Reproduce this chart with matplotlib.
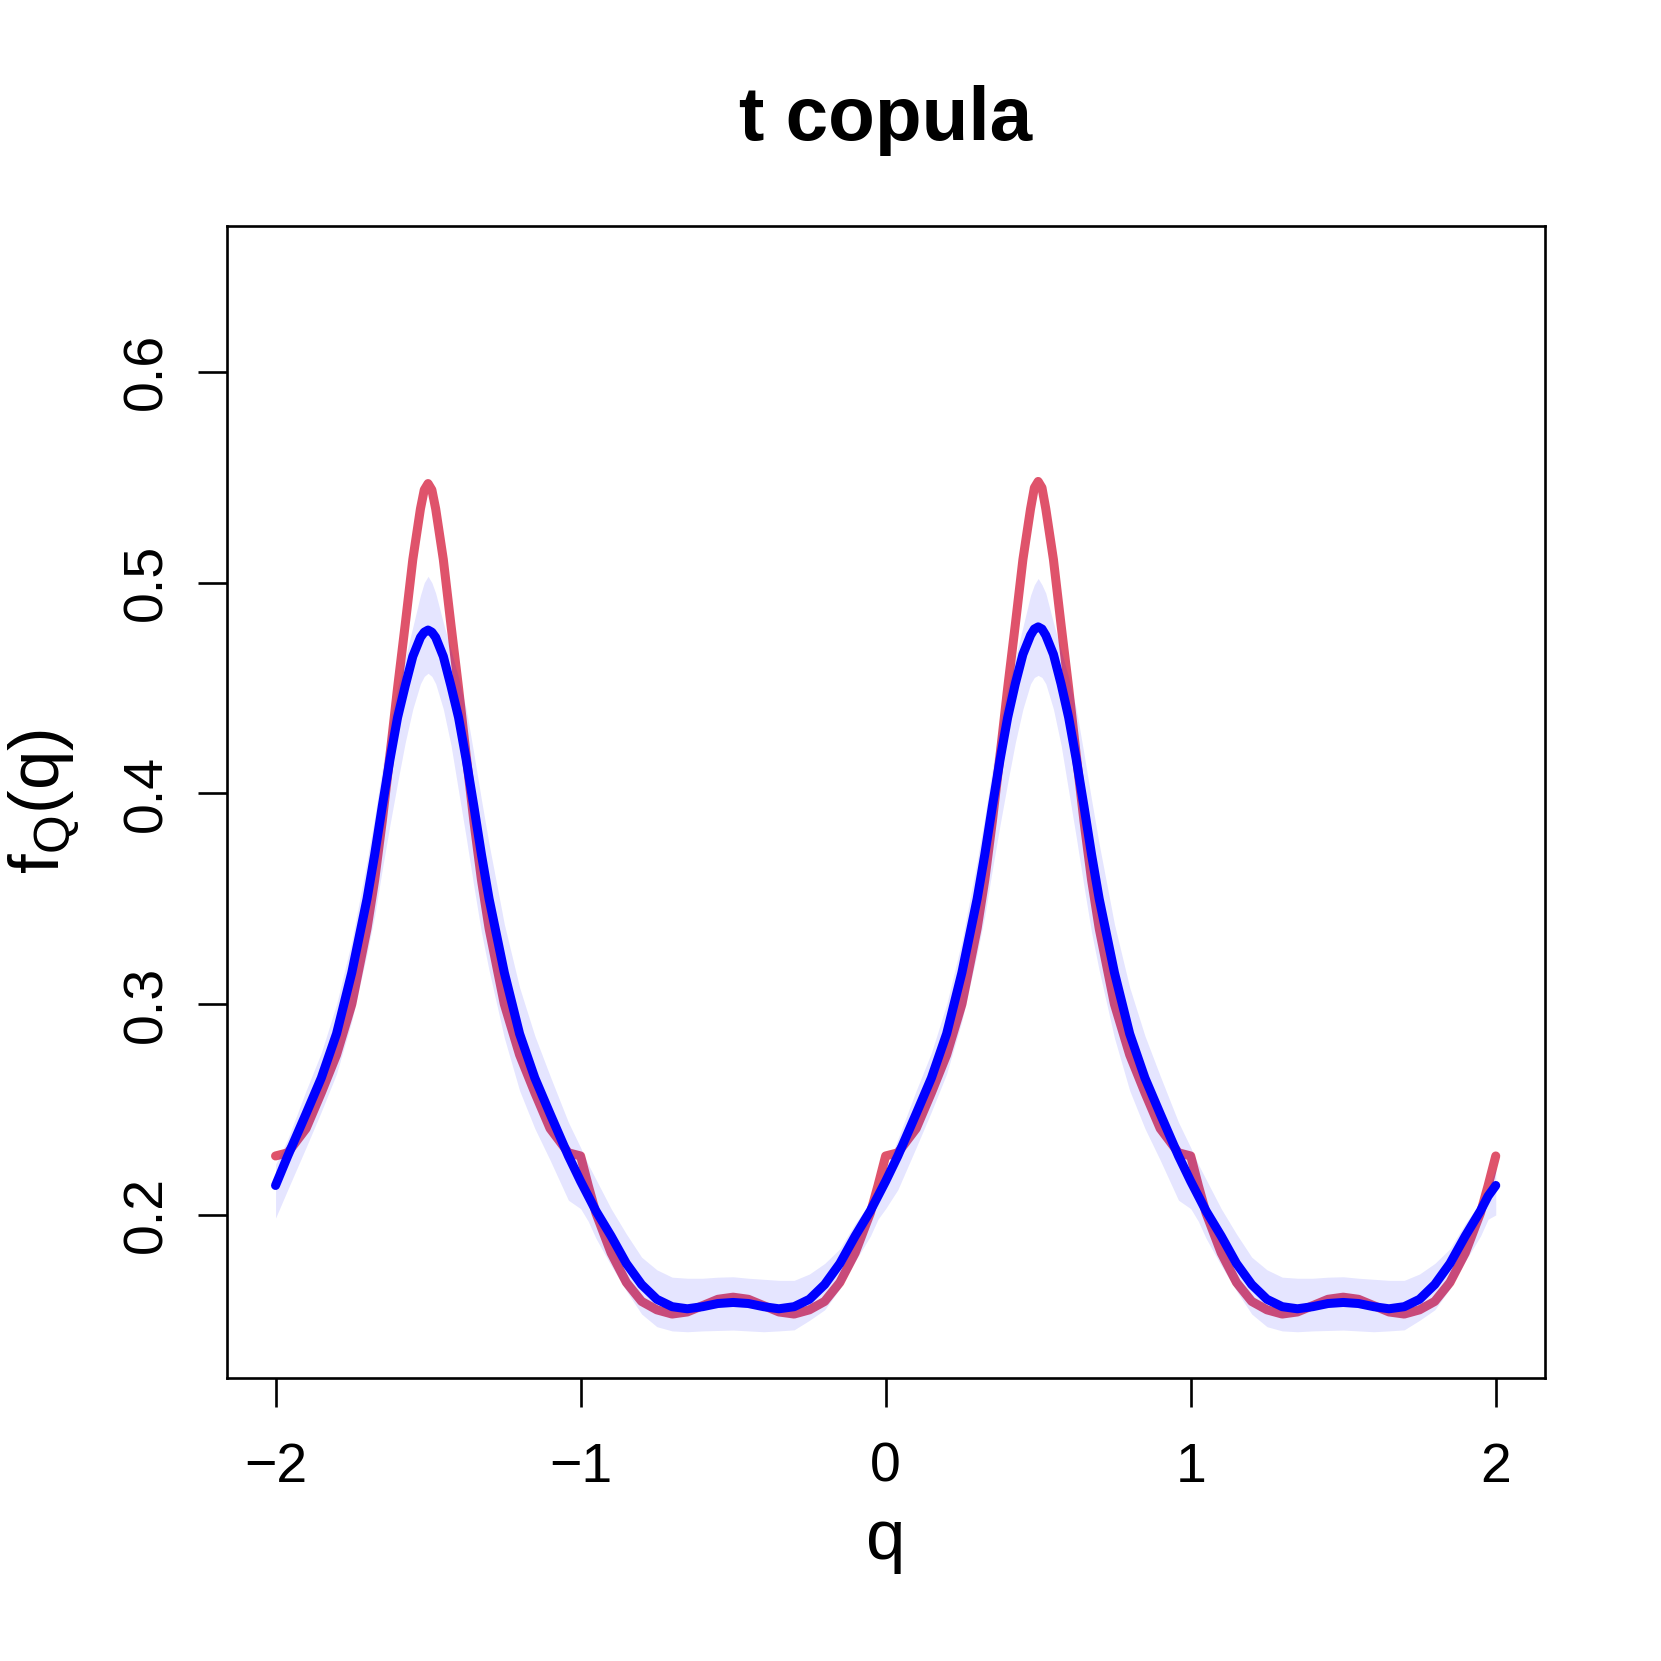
import matplotlib
matplotlib.use("Agg")
import matplotlib.pyplot as plt

# ---------------- data ----------------
q = [-2.0, -1.96, -1.9, -1.85, -1.8, -1.75, -1.7, -1.675, -1.65, -1.625, -1.6, -1.575, -1.55, -1.525, -1.5125, -1.5,
     -1.4875, -1.475, -1.45, -1.425, -1.4, -1.375, -1.35, -1.325, -1.3, -1.25, -1.2, -1.15, -1.1, -1.04, -1.0,
     -0.975, -0.95, -0.9, -0.85, -0.8, -0.75, -0.7, -0.65, -0.6, -0.55, -0.5, -0.45, -0.4, -0.35, -0.3,
     -0.25, -0.2, -0.15, -0.1, -0.05, -0.025,
     0.0, 0.04, 0.1, 0.15, 0.2, 0.25, 0.3, 0.325, 0.35, 0.375, 0.4, 0.425, 0.45, 0.475, 0.4875, 0.5,
     0.5125, 0.525, 0.55, 0.575, 0.6, 0.625, 0.65, 0.675, 0.7, 0.75, 0.8, 0.85, 0.9, 0.96, 1.0,
     1.025, 1.05, 1.1, 1.15, 1.2, 1.25, 1.3, 1.35, 1.4, 1.45, 1.5, 1.55, 1.6, 1.65, 1.7,
     1.75, 1.8, 1.85, 1.9, 1.95, 1.975, 2.0]

# true density (red)
dens_true = [0.228, 0.2295, 0.241, 0.258, 0.276, 0.300, 0.336, 0.359, 0.387, 0.418, 0.450, 0.480, 0.511, 0.535, 0.544, 0.547,
             0.544, 0.535, 0.511, 0.480, 0.450, 0.418, 0.387, 0.359, 0.336, 0.300, 0.276, 0.258, 0.241, 0.2295, 0.228,
             0.214, 0.201, 0.182, 0.168, 0.159, 0.155, 0.153, 0.154, 0.157, 0.160, 0.161, 0.160, 0.157, 0.154, 0.153,
             0.155, 0.159, 0.168, 0.182, 0.201, 0.214,
             0.228, 0.2295, 0.241, 0.258, 0.276, 0.300, 0.336, 0.359, 0.387, 0.418, 0.450, 0.480, 0.511, 0.535, 0.545, 0.548,
             0.545, 0.535, 0.511, 0.480, 0.450, 0.418, 0.387, 0.359, 0.336, 0.300, 0.276, 0.258, 0.241, 0.2295, 0.228,
             0.214, 0.201, 0.182, 0.168, 0.159, 0.155, 0.153, 0.154, 0.157, 0.160, 0.161, 0.160, 0.157, 0.154, 0.153,
             0.155, 0.159, 0.168, 0.182, 0.201, 0.214, 0.228]

# estimated density (blue)
dens_est = [0.214, 0.228, 0.248, 0.265, 0.286, 0.315, 0.350, 0.371, 0.394, 0.416, 0.436, 0.451, 0.465, 0.474, 0.4765, 0.4775,
            0.4765, 0.474, 0.465, 0.451, 0.436, 0.416, 0.394, 0.371, 0.350, 0.315, 0.286, 0.265, 0.248, 0.228, 0.216,
            0.209, 0.202, 0.190, 0.177, 0.167, 0.160, 0.1565, 0.1555, 0.1565, 0.158, 0.1585, 0.158, 0.1565, 0.1555, 0.1565,
            0.160, 0.167, 0.177, 0.190, 0.202, 0.209,
            0.216, 0.228, 0.248, 0.265, 0.286, 0.315, 0.350, 0.371, 0.394, 0.416, 0.436, 0.452, 0.466, 0.475, 0.478, 0.479,
            0.478, 0.475, 0.466, 0.452, 0.436, 0.416, 0.394, 0.371, 0.350, 0.315, 0.286, 0.265, 0.248, 0.228, 0.216,
            0.209, 0.202, 0.190, 0.177, 0.167, 0.160, 0.1565, 0.1555, 0.1565, 0.158, 0.1585, 0.158, 0.1565, 0.1555, 0.1565,
            0.160, 0.167, 0.177, 0.190, 0.202, 0.209, 0.214]

# pointwise band around the estimate
band_upper = [0.224, 0.236, 0.259, 0.277, 0.300, 0.330, 0.368, 0.389, 0.412, 0.434, 0.450, 0.464, 0.479, 0.494, 0.500, 0.503,
              0.500, 0.495, 0.481, 0.468, 0.455, 0.440, 0.419, 0.397, 0.376, 0.338, 0.308, 0.285, 0.266, 0.244, 0.232,
              0.224, 0.217, 0.203, 0.191, 0.180, 0.174, 0.1705, 0.170, 0.170, 0.1705, 0.1707, 0.170, 0.1695, 0.169, 0.169,
              0.172, 0.177, 0.184, 0.196, 0.206, 0.212,
              0.221, 0.236, 0.259, 0.277, 0.300, 0.330, 0.368, 0.389, 0.412, 0.434, 0.450, 0.464, 0.479, 0.494, 0.499, 0.502,
              0.499, 0.495, 0.481, 0.468, 0.455, 0.440, 0.419, 0.397, 0.376, 0.338, 0.308, 0.285, 0.266, 0.244, 0.232,
              0.224, 0.217, 0.203, 0.191, 0.180, 0.174, 0.1705, 0.170, 0.170, 0.1705, 0.1707, 0.170, 0.1695, 0.169, 0.169,
              0.172, 0.177, 0.184, 0.196, 0.206, 0.212, 0.222]

band_lower = [0.1985, 0.212, 0.232, 0.249, 0.267, 0.292, 0.324, 0.342, 0.364, 0.385, 0.405, 0.424, 0.440, 0.452, 0.4555, 0.457,
              0.4555, 0.452, 0.440, 0.423, 0.401, 0.379, 0.356, 0.334, 0.316, 0.284, 0.259, 0.241, 0.226, 0.207, 0.203,
              0.197, 0.189, 0.176, 0.164, 0.153, 0.147, 0.145, 0.1446, 0.145, 0.1452, 0.1454, 0.145, 0.1446, 0.145, 0.1455,
              0.150, 0.155, 0.165, 0.178, 0.190, 0.198,
              0.203, 0.212, 0.232, 0.249, 0.267, 0.292, 0.324, 0.342, 0.364, 0.385, 0.405, 0.424, 0.440, 0.452, 0.455, 0.456,
              0.455, 0.452, 0.440, 0.423, 0.401, 0.379, 0.356, 0.334, 0.316, 0.284, 0.259, 0.241, 0.226, 0.207, 0.203,
              0.197, 0.189, 0.176, 0.164, 0.153, 0.147, 0.145, 0.1446, 0.145, 0.1452, 0.1454, 0.145, 0.1446, 0.145, 0.1455,
              0.150, 0.155, 0.165, 0.178, 0.190, 0.198, 0.200]

x_ticks = [-2, -1, 0, 1, 2]
x_ticklabels = ["\u22122", "\u22121", "0", "1", "2"]
y_ticks = [0.2, 0.3, 0.4, 0.5, 0.6]
y_ticklabels = ["0.2", "0.3", "0.4", "0.5", "0.6"]

# ---------------- style ----------------
plt.rcParams["font.family"] = ["Liberation Sans", "DejaVu Sans"]
plt.rcParams["mathtext.fontset"] = "custom"
plt.rcParams["mathtext.rm"] = "Liberation Sans"
plt.rcParams["mathtext.it"] = "Liberation Sans:italic"

fig = plt.figure(figsize=(16.61, 16.61), dpi=100)
ax = fig.add_axes([0.1365, 0.1703, 0.7934, 0.6939])

ax.plot(q, dens_true, color="#DF536B", lw=6.5,
        solid_capstyle="round", solid_joinstyle="round", zorder=2)
ax.fill_between(q, band_lower, band_upper, color=(0, 0, 1, 0.1), lw=0, zorder=3)
ax.plot(q, dens_est, color="#0000FF", lw=6.5,
        solid_capstyle="round", solid_joinstyle="round", zorder=4)

ax.set_xlim(-2.16, 2.16)
ax.set_ylim(0.1226, 0.6694)

ax.set_xticks(x_ticks)
ax.set_xticklabels(x_ticklabels)
ax.set_yticks(y_ticks)
ax.set_yticklabels(y_ticklabels, rotation=90, va="center")

ax.tick_params(axis="both", direction="out", length=20.9, width=1.9,
               labelsize=40, color="black")
ax.tick_params(axis="x", pad=25)
ax.tick_params(axis="y", pad=17.5)
for s in ax.spines.values():
    s.set_linewidth(1.9)

cx = 0.1365 + 0.7934 / 2
cy = 0.1703 + 0.6939 / 2
fig.text(cx, 0.9157, "t copula", ha="center", va="baseline",
         fontsize=55, fontweight="bold")
fig.text(cx, 0.0614, "q", ha="center", va="baseline", fontsize=51)
fig.text(0.0262, cy, r"$\mathrm{f}_{\mathrm{Q}}\mathrm{(q)}$", ha="center", va="center",
         rotation=90, fontsize=51)

fig.savefig("out.png", dpi=100)
